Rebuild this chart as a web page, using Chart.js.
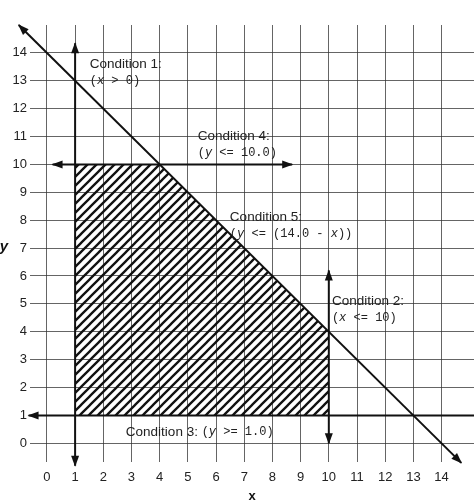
<!DOCTYPE html>
<html>
<head>
<meta charset="utf-8">
<script src="https://cdn.jsdelivr.net/npm/chart.js@4.4.1/dist/chart.umd.min.js"></script>
<style>
  html, body { margin: 0; padding: 0; background: #fff; }
  #wrap { width: 474px; height: 502px; }
</style>
</head>
<body>
<div id="wrap"><canvas id="chart"></canvas></div>
<script>
const xTicks = [0, 1, 2, 3, 4, 5, 6, 7, 8, 9, 10, 11, 12, 13, 14];
const yTicks = [0, 1, 2, 3, 4, 5, 6, 7, 8, 9, 10, 11, 12, 13, 14];

// feasible region: upper boundary, hatched down to y = 1
const regionX = [1, 4, 10];
const regionY = [10, 10, 4];
const regionFloor = 1;

// condition lines, end points
const cond1X = [1, 1];
const cond1Y = [-0.8, 14.35];
const cond2X = [10, 10];
const cond2Y = [0, 6.2];
const cond3X = [-0.65, 15.2];
const cond3Y = [1, 1];
const cond4X = [0.2, 8.7];
const cond4Y = [10, 10];
const cond5X = [-1, 14.7];
const cond5Y = [15, -0.7];

// text labels: s = sans, m = mono, i = italic mono
const notes = [
  { x: 1.52, y: 13.59, lines: [[['Condition 1:', 's']], [['(', 'm'], ['x', 'i'], [' > 0)', 'm']]] },
  { x: 5.35, y: 11.01, lines: [[['Condition 4:', 's']], [['(', 'm'], ['y', 'i'], [' <= 10.0)', 'm']]] },
  { x: 6.49, y: 8.11, lines: [[['Condition 5:', 's']], [['(', 'm'], ['y', 'i'], [' <= (14.0 - ', 'm'], ['x', 'i'], ['))', 'm']]] },
  { x: 10.11, y: 5.10, lines: [[['Condition 2:', 's']], [['(', 'm'], ['x', 'i'], [' <= 10)', 'm']]] },
  { x: 2.80, y: 0.40, lines: [[['Condition 3: ', 's'], ['(', 'm'], ['y', 'i'], [' >= 1.0)', 'm']]] }
];

const pts = (xs, ys) => xs.map((x, i) => ({ x: x, y: ys[i] }));

const fonts = {
  s: '13.5px "Liberation Sans", Arial, sans-serif',
  m: '12px "Liberation Mono", "DejaVu Sans Mono", monospace',
  i: 'italic 12px "Liberation Mono", "DejaVu Sans Mono", monospace'
};

function hatch() {
  const s = 9;
  const c = document.createElement('canvas');
  c.width = s; c.height = s;
  const g = c.getContext('2d');
  g.strokeStyle = '#111';
  g.lineWidth = 2.3;
  g.beginPath();
  g.moveTo(-1, s + 1); g.lineTo(s + 1, -1);
  g.moveTo(-1, 1); g.lineTo(1, -1);
  g.moveTo(s - 1, s + 1); g.lineTo(s + 1, s - 1);
  g.stroke();
  return g.createPattern(c, 'repeat');
}

const arrowHeads = {
  id: 'arrowHeads',
  afterDatasetsDraw(chart) {
    const ctx = chart.ctx;
    chart.data.datasets.forEach((ds, i) => {
      if (!ds.arrows) return;
      const p = chart.getDatasetMeta(i).data;
      const n = p.length;
      const ends = ds.arrows === 'start' ? [[0, 1]] : [[0, 1], [n - 1, n - 2]];
      ends.forEach(([a, b]) => {
        const ang = Math.atan2(p[a].y - p[b].y, p[a].x - p[b].x);
        ctx.save();
        ctx.translate(p[a].x, p[a].y);
        ctx.rotate(ang);
        ctx.beginPath();
        ctx.moveTo(1, 0);
        ctx.lineTo(-10, -4);
        ctx.lineTo(-10, 4);
        ctx.closePath();
        ctx.fillStyle = '#111';
        ctx.fill();
        ctx.restore();
      });
    });
  }
};

const textNotes = {
  id: 'textNotes',
  afterDatasetsDraw(chart) {
    const ctx = chart.ctx;
    const xs = chart.scales.x, ys = chart.scales.y;
    ctx.save();
    ctx.fillStyle = '#222';
    ctx.textBaseline = 'middle';
    ctx.textAlign = 'left';
    notes.forEach(n => {
      const x0 = xs.getPixelForValue(n.x);
      const y0 = ys.getPixelForValue(n.y);
      n.lines.forEach((segs, k) => {
        let cx = x0;
        segs.forEach(([t, f]) => {
          ctx.font = fonts[f];
          ctx.fillText(t, cx, y0 + k * 16.5);
          cx += ctx.measureText(t).width;
        });
      });
    });
    // y axis title, upright as in the figure
    ctx.font = 'bold italic 15px "Liberation Sans", Arial, sans-serif';
    ctx.textAlign = 'center';
    ctx.fillStyle = '#111';
    ctx.fillText('y', 4, (chart.chartArea.top + chart.chartArea.bottom) / 2 + 3);
    ctx.restore();
  }
};

const lineDs = (xs, ys, arrows) => ({
  data: pts(xs, ys),
  showLine: true,
  borderColor: '#111',
  borderWidth: 2,
  pointRadius: 0,
  fill: false,
  clip: false,
  arrows: arrows
});

new Chart(document.getElementById('chart'), {
  type: 'scatter',
  data: {
    datasets: [
      {
        data: pts(regionX, regionY),
        showLine: true,
        borderWidth: 0,
        borderColor: 'rgba(0,0,0,0)',
        backgroundColor: hatch(),
        pointRadius: 0,
        fill: { value: regionFloor }
      },
      lineDs(cond1X, cond1Y, 'both'),
      lineDs(cond2X, cond2Y, 'both'),
      lineDs(cond3X, cond3Y, 'start'),
      lineDs(cond4X, cond4Y, 'both'),
      lineDs(cond5X, cond5Y, 'both')
    ]
  },
  options: {
    responsive: true,
    maintainAspectRatio: false,
    animation: false,
    layout: { padding: { top: 25, left: 0, right: 0, bottom: 0 } },
    plugins: { legend: { display: false }, tooltip: { enabled: false } },
    scales: {
      x: {
        type: 'linear',
        min: -0.6,
        max: 15.15,
        afterBuildTicks: s => { s.ticks = xTicks.map(v => ({ value: v })); },
        afterFit: s => { s.height = 40; },
        border: { display: false },
        grid: { color: 'rgba(50,50,50,0.75)', lineWidth: 1, drawTicks: false },
        ticks: {
          padding: 8,
          color: '#222',
          maxRotation: 0,
          autoSkip: false,
          font: { family: '"Liberation Sans", Arial, sans-serif', size: 13 }
        },
        title: {
          display: true,
          text: 'x',
          color: '#111',
          padding: { top: 0, bottom: 0 },
          font: { family: '"Liberation Sans", Arial, sans-serif', size: 13, weight: 'bold', lineHeight: 0.8 }
        }
      },
      y: {
        type: 'linear',
        min: -0.67,
        max: 15.0,
        afterBuildTicks: s => { s.ticks = yTicks.map(v => ({ value: v })); },
        afterFit: s => { s.width = 30; },
        border: { display: false },
        grid: { color: 'rgba(50,50,50,0.75)', lineWidth: 1, drawTicks: false },
        ticks: {
          padding: 3,
          color: '#222',
          autoSkip: false,
          font: { family: '"Liberation Sans", Arial, sans-serif', size: 13 }
        }
      }
    }
  },
  plugins: [arrowHeads, textNotes]
});
</script>
</body>
</html>
